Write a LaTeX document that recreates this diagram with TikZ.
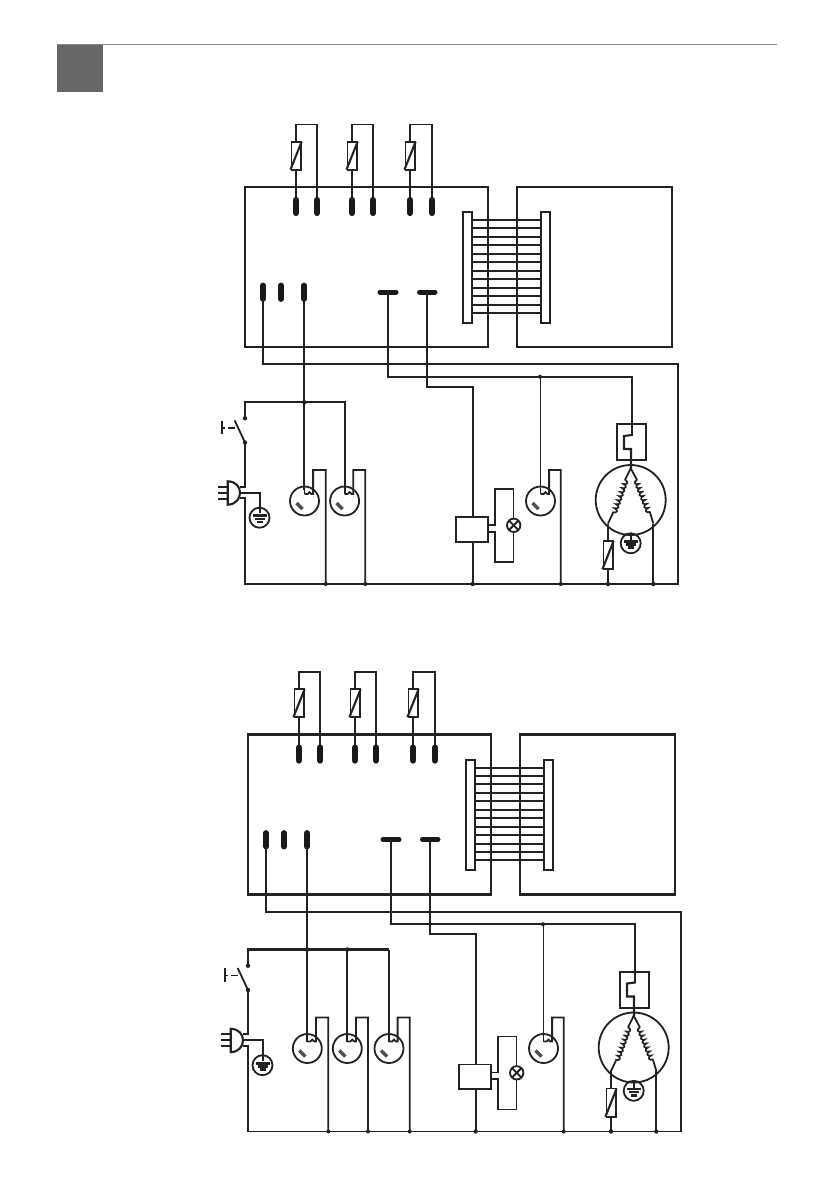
\documentclass[tikz,border=0pt]{standalone}
\usetikzlibrary{decorations.pathmorphing}
\definecolor{ink}{HTML}{222222}
\definecolor{hdr}{HTML}{666666}
\definecolor{hdrline}{HTML}{8A8A8A}
\tikzset{
  wire/.style={draw=ink,line width=1.8},
  heavy/.style={draw=ink,line width=2.1},
  pill/.style={draw=black!90,line width=6.2,line cap=round},
  hpill/.style={draw=black!90,line width=5,line cap=round},
  junction/.style={fill=ink,draw=none},
  coilL/.style={draw=ink,line width=1.7,decorate,decoration={bumps,segment length=8.6,amplitude=3.2}},
  coilR/.style={draw=ink,line width=1.7,decorate,decoration={bumps,segment length=8.6,amplitude=3.2,mirror}},
}
% resistor: centre x, y-top, y-bottom
\newcommand{\resist}[3]{%
  \draw[wire,fill=white] (#1-4.6,#2) rectangle (#1+4.6,#3);
  \draw[heavy] (#1-5.6,#3) -- (#1+5.6,#2);
}
% earth symbol in a circle at (x,y)
\newcommand{\earthsym}[2]{%
  \draw[wire] (#1,#2) circle [radius=10];
  \draw[heavy,line width=2.6] (#1-7,#2-2) -- (#1+7,#2-2);
  \draw[heavy,line width=2.6] (#1-5,#2+1.2) -- (#1+5,#2+1.2);
  \draw[heavy,line width=2.6] (#1-3,#2+4.4) -- (#1+3,#2+4.4);
}
% start device: circle centre x, ear right x
\newcommand{\startdev}[3]{%
  \draw[wire] (#1,501) circle [radius=14.5];
  \draw[wire] (#1,494) -- (#1+3,494) .. controls (#1+4,491.5) and (#1+6,491.5) .. (#1+7,494) -- (#1+8.6,494) -- (#1+8.6,470) -- (#2,470) -- (#2,584);
  \fill[junction] (#2,584) circle [radius=2];
  \draw[draw=ink!80,line width=3.4] (#1-8,503) -- (#1-2,509);
  \draw[wire] (#1,#3) -- (#1,494);
}
% everything shared by both diagrams (drawn in the upper diagram's frame)
\newcommand{\fridge}[1]{%
  \draw[heavy] (245,187) rectangle (488,347);
  \draw[heavy] (517,187) rectangle (672,347);
  % door resistors
  \foreach \a/\b in {296/317.3,352/373,410/432}{
    \draw[wire] (\a,197) -- (\a,124.5) -- (\b,124.5) -- (\b,197);
    \resist{\a}{141.7}{169.7}
    \draw[pill] (\a,200) -- (\a,213);
    \draw[pill] (\b,200) -- (\b,213);
  }
  % terminals
  \foreach \a in {263,281,304.3}{\draw[pill,line width=5.8] (\a,285.5) -- (\a,299);}
  \draw[hpill] (380,292) -- (396,292);
  \draw[hpill] (419.5,292) -- (435,292);
  % heat exchanger
  \foreach \n in {0,...,11}{\draw[wire,line width=2] (472,220+\n*8.45) -- (541,220+\n*8.45);}
  \draw[wire,fill=white] (462.7,212.3) rectangle (472.3,322.7);
  \draw[wire,fill=white] (541,212.3) rectangle (550.3,322.7);
  % outer wiring
  \draw[wire] (263,299) -- (263,364.3) -- (678,364.3) -- (678,584) -- (245,584) -- (245,498.3) -- (240,498.3);
  \draw[wire] (387.7,292) -- (387.7,376.7) -- (631.7,376.7) -- (631.7,434);
  \draw[wire] (427.3,292) -- (427.3,386.7) -- (472.7,386.7) -- (472.7,584);
  \fill[junction] (540,376.7) circle [radius=2];
  % switch
  \fill[junction] (245,418.3) circle [radius=2.2];
  \fill[junction] (245,442.5) circle [radius=2.2];
  \draw[wire] (234.7,420.5) -- (245,442.5);
  \draw[wire] (222.3,420.7) -- (222.3,434);
  \draw[wire] (222.3,428) -- (225,428);
  \draw[wire] (228,428) -- (235,428);
  \draw[heavy] (245,442.5) -- (245,486.7) -- (240,486.7);
  % plug
  \draw[heavy] (227.7,481.3) .. controls (236,481.5) and (240,487) .. (240,492.7) .. controls (240,498.5) and (236,504.5) .. (227.7,504.7) -- cycle;
  \foreach \p in {486.7,492.7,498.7}{\draw[wire] (218,\p) -- (227.7,\p);}
  \draw[wire] (240,492.7) -- (260,492.7) -- (260,513);
  \earthsym{259.5}{517.7}
  % fan / lamp unit
  \draw[wire,fill=white] (456.3,517) rectangle (487.7,541.7);
  \draw[wire] (487.7,525) -- (495,525) -- (495,489) -- (513.5,489) -- (513.5,518.6);
  \draw[wire] (487.7,531.7) -- (495,531.7) -- (495,562) -- (513.5,562) -- (513.5,532);
  \draw[wire] (513.7,525.3) circle [radius=6.7];
  \draw[wire] (509,520.6) -- (518.4,530);
  \draw[wire] (509,530) -- (518.4,520.6);
  % thermal protector
  \draw[wire] (617,424.3) rectangle (645.7,460.3);
  \draw[heavy] (631.7,434) -- (631.7,435) -- (624,436) -- (624,449) -- (631,449) -- (631,468.3);
  % compressor motor
  \draw[wire] (630.7,500) circle [radius=35];
  \draw[wire] (630.7,468.3) -- (625,480);
  \draw[coilL] (625,480) -- (612.5,514);
  \draw[wire] (612.5,514) -- (608,523.5);
  \draw[wire] (630.7,468.3) -- (637,480);
  \draw[coilR] (637,480) -- (650.5,514);
  \draw[wire] (650.5,514) -- (653.3,523.5);
  \draw[heavy] (608,523.5) -- (608,584);
  \draw[heavy] (653.3,523.5) -- (653.3,584);
  \resist{608}{541}{569.3}
  \earthsym{630.7}{543.3}
  \draw[heavy] (630.7,533) -- (630.7,541);
  \foreach \p in {472.7,608,653.3}{\fill[junction] (\p,584) circle [radius=2.2];}
  \startdev{540.5}{560.7}{376.7}
  #1
}
\begin{document}
\begin{tikzpicture}[x=1pt,y=-1pt]
\useasboundingbox (0,0) rectangle (823,1192);
\fill[white] (0,0) rectangle (823,1192);
% page header
\fill[hdr] (57,44) rectangle (103,92);
\draw[hdrline,line width=1] (57,44.5) -- (777,44.5);
% upper diagram
\fridge{%
  \draw[heavy] (245,418.3) -- (245,402.3) -- (344.6,402.3) -- (344.6,490);
  \draw[wire] (304.3,299) -- (304.3,490);
  \fill[junction] (304.3,402.3) circle [radius=2.2];
  \startdev{304.5}{325.7}{402.3}
  \startdev{344.6}{365.3}{402.3}
}
% lower diagram
\begin{scope}[shift={(3,547.5)}]
\fridge{%
  \draw[heavy,line width=2.5] (245,418.3) -- (245,402) -- (386,402);
  \draw[wire] (304.3,299) -- (304.3,402);
  \fill[junction] (304.3,402) circle [radius=2.2];
  \fill[junction] (344.3,402) circle [radius=2.2];
  \startdev{304.3}{325.3}{402}
  \startdev{344.3}{365}{402}
  \startdev{386}{406.7}{402}
}
\end{scope}
\end{tikzpicture}
\end{document}
